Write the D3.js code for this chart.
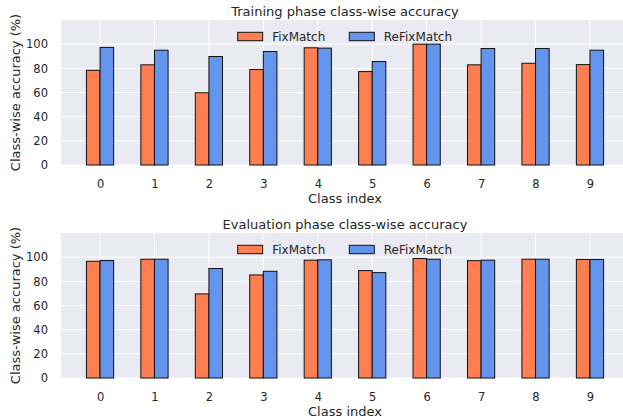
<!DOCTYPE html>
<html>
<head>
<meta charset="utf-8">
<script src="https://cdn.jsdelivr.net/npm/d3@7"></script>
<style>
  body { margin: 0; background: #fff; }
  text { font-family: "DejaVu Sans", sans-serif; fill: #262626; }
</style>
</head>
<body>
<svg id="chart"></svg>
<script>
// data
var classes = [0, 1, 2, 3, 4, 5, 6, 7, 8, 9];
var seriesNames = ["FixMatch", "ReFixMatch"];
var trainFix   = [78.4, 82.9, 59.8, 79.0, 97.0, 77.3, 100, 82.9, 84.2, 83.1];
var trainReFix = [97.3, 95.0, 89.8, 93.9, 96.7, 85.6, 100, 96.4, 96.4, 95.0];
var evalFix    = [96.6, 98.3, 69.6, 85.3, 97.5, 88.9, 98.9, 97.1, 98.3, 98.1];
var evalReFix  = [97.2, 98.3, 90.6, 88.3, 97.8, 87.2, 98.3, 97.5, 98.3, 98.1];
var yTicks = [0, 20, 40, 60, 80, 100];

var svgWidth = 623, svgHeight = 419;
var colors = { "FixMatch": "#ff7f50", "ReFixMatch": "#6495ed" };

var svg = d3.select("#chart")
  .attr("width", svgWidth)
  .attr("height", svgHeight);

var panels = [
  { title: "Training phase class-wise accuracy", top: 20, fix: trainFix, re: trainReFix },
  { title: "Evaluation phase class-wise accuracy", top: 233, fix: evalFix, re: evalReFix }
];

var left = 61, right = 629, plotH = 145;

panels.forEach(function(p) {
  var x = d3.scaleLinear().domain([-0.717, 9.717]).range([left, right]);
  var y = d3.scaleLinear().domain([0, 120]).range([p.top + plotH, p.top]);
  var g = svg.append("g");

  // background + grid
  g.append("rect")
    .attr("x", left).attr("y", p.top)
    .attr("width", right - left).attr("height", plotH)
    .attr("fill", "#eaeaf2");

  g.selectAll(".hgrid").data(yTicks).enter().append("line")
    .attr("x1", left).attr("x2", right)
    .attr("y1", d => y(d)).attr("y2", d => y(d))
    .attr("stroke", "#fff").attr("stroke-width", 1);

  g.selectAll(".vgrid").data(classes).enter().append("line")
    .attr("x1", d => x(d)).attr("x2", d => x(d))
    .attr("y1", p.top).attr("y2", p.top + plotH)
    .attr("stroke", "#fff").attr("stroke-width", 1);

  // bars
  var rows = classes.map((c, i) => ({ c: c, fix: p.fix[i], re: p.re[i] }));
  var bw = x(0.25) - x(0);

  g.selectAll(".fix").data(rows).enter().append("rect")
    .attr("x", d => x(d.c - 0.25))
    .attr("y", d => y(d.fix))
    .attr("width", bw)
    .attr("height", d => y(0) - y(d.fix))
    .attr("fill", colors["FixMatch"])
    .attr("stroke", "#111").attr("stroke-width", 1);

  g.selectAll(".re").data(rows).enter().append("rect")
    .attr("x", d => x(d.c))
    .attr("y", d => y(d.re))
    .attr("width", bw)
    .attr("height", d => y(0) - y(d.re))
    .attr("fill", colors["ReFixMatch"])
    .attr("stroke", "#111").attr("stroke-width", 1);

  // axes (ticks hidden, labels only)
  var xAxis = g.append("g")
    .attr("transform", "translate(0," + (p.top + plotH) + ")")
    .call(d3.axisBottom(x).tickValues(classes).tickFormat(d3.format("d")).tickSize(0).tickPadding(15));
  var yAxis = g.append("g")
    .attr("transform", "translate(" + left + ",0)")
    .call(d3.axisLeft(y).tickValues(yTicks).tickSize(0).tickPadding(13));
  [xAxis, yAxis].forEach(a => {
    a.select(".domain").remove();
    a.selectAll("text").style("font-size", "11.5px").attr("fill", "#262626")
      .style("font-family", "DejaVu Sans");
  });

  var cx = (left + right) / 2;
  g.append("text")
    .attr("x", cx).attr("y", p.top - 4.5)
    .style("text-anchor", "middle").style("font-size", "13px")
    .text(p.title);

  g.append("text")
    .attr("x", cx).attr("y", p.top + plotH + 37.5)
    .style("text-anchor", "middle").style("font-size", "13px")
    .text("Class index");

  g.append("text")
    .attr("transform", "translate(19.5," + (p.top + plotH / 2) + ") rotate(-90)")
    .style("text-anchor", "middle").style("font-size", "13px")
    .text("Class-wise accuracy (%)");

  // legend
  var legX = [237.7, 349.3];
  var leg = g.selectAll(".leg").data(seriesNames).enter().append("g")
    .attr("transform", (d, i) => "translate(" + legX[i] + "," + (p.top + 12.3) + ")");
  leg.append("rect")
    .attr("width", 25).attr("height", 8.4)
    .attr("fill", d => colors[d])
    .attr("stroke", "#111").attr("stroke-width", 1);
  leg.append("text")
    .attr("x", 34.5).attr("y", 8.6)
    .style("font-size", "12px")
    .text(d => d);
});
</script>
</body>
</html>
